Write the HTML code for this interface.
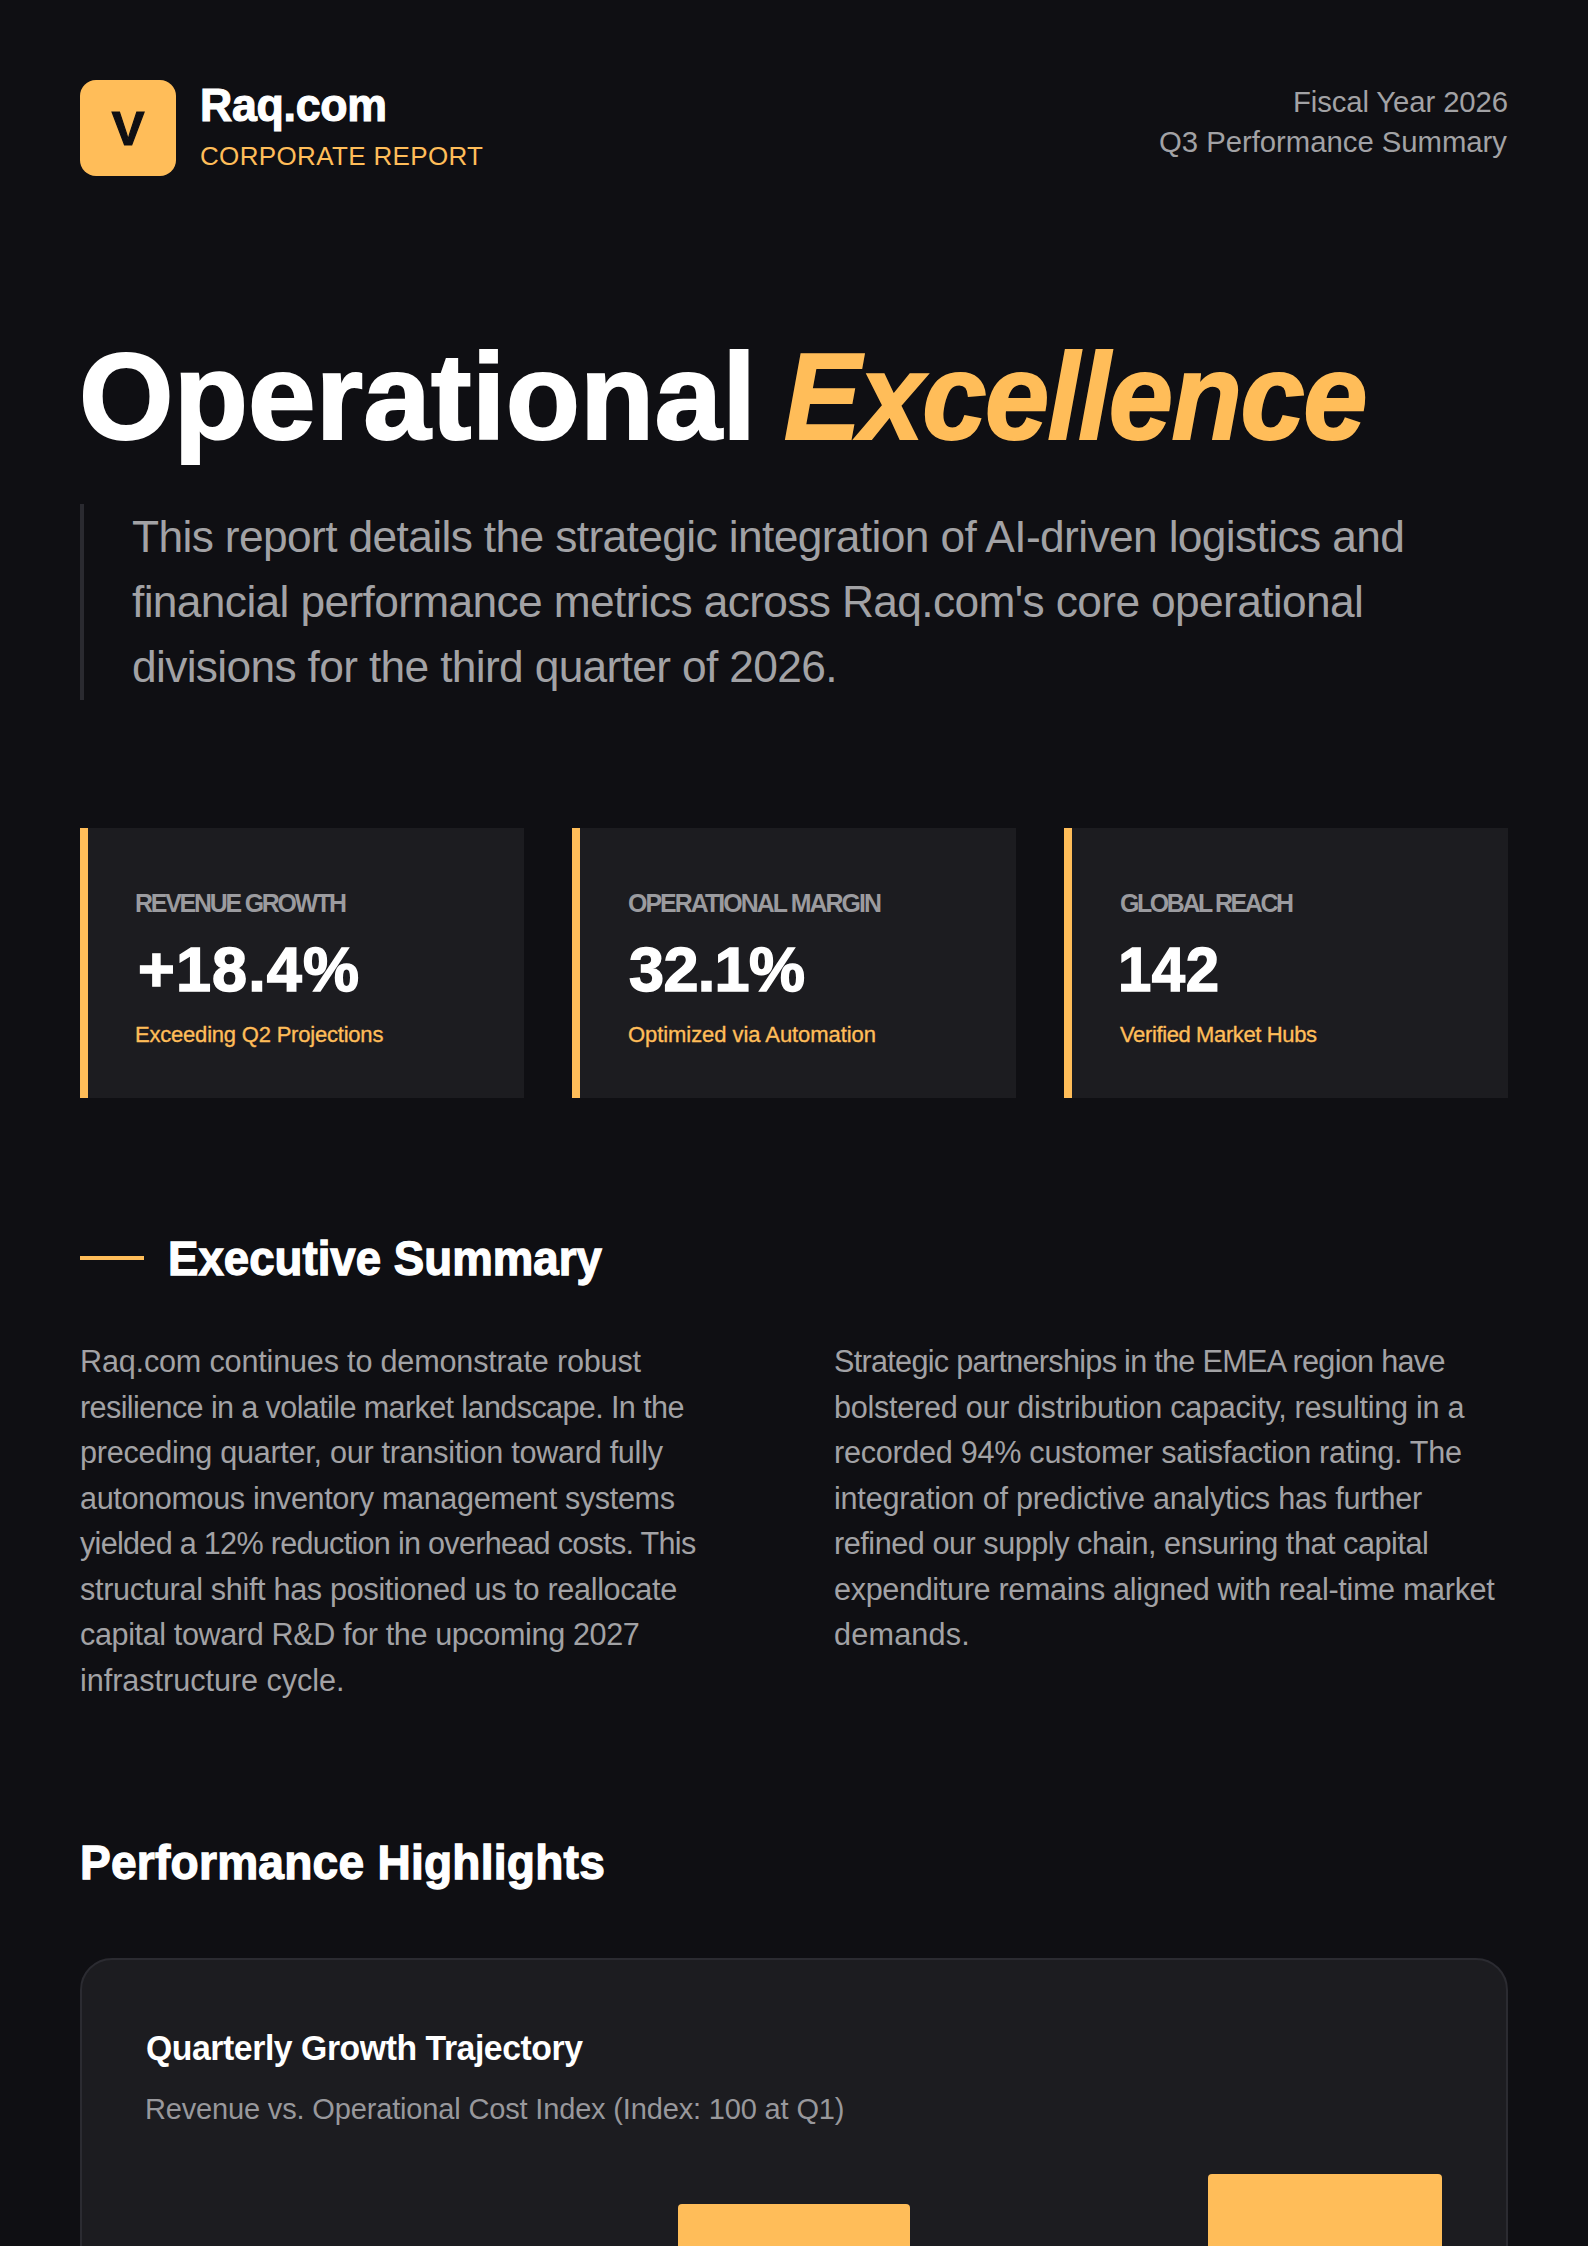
<!DOCTYPE html>
<html lang="en">
<head>
<meta charset="utf-8">
<title>Raq.com Corporate Report</title>
<style>
html,body,h1,h2,h3,p,blockquote{margin:0;padding:0}
h1,h2,h3{font-size:inherit;font-weight:inherit}
body{width:1588px;height:2246px;background:#0f0f13;overflow:hidden;position:relative;font-family:"Liberation Sans",sans-serif;color:#fff}
.t{position:absolute;white-space:nowrap;margin:0;transform-origin:0 0;font-kerning:normal}
.r{transform-origin:100% 0}
.logo{position:absolute;left:80px;top:80px;width:96px;height:96px;border-radius:16px;background:#ffbd59;display:flex;align-items:center;justify-content:center;color:#0f0f13;font-weight:700;font-size:49px;line-height:1}
.logo span{display:block;margin-top:1px;-webkit-text-stroke:1.2px #0f0f13}
.bq{position:absolute;left:80px;top:504px;width:4px;height:196px;background:#2a2a30}
.card{position:absolute;top:828px;width:436px;height:270px;background:#1c1c20;border-left:8px solid #ffbd59}
.rule{position:absolute;left:80px;top:1256px;width:64px;height:4px;background:#ffbd59}
.chart{position:absolute;left:80px;top:1958px;width:1424px;height:400px;border:2px solid #2b2b31;border-radius:32px;background:#1c1c20}
.bar{position:absolute;background:#ffbd59;border-radius:4px 4px 0 0;width:233.6px;height:200px}
#brand{top:82.18px;font-size:46.5px;line-height:46.5px;color:#ffffff;font-weight:700;letter-spacing:-0.266px;left:200.00px;transform:scaleX(0.9600);-webkit-text-stroke:1.2px #ffffff;}
#corp{top:142.50px;font-size:26px;line-height:26px;color:#ffbd59;letter-spacing:0.343px;left:200.00px;}
#fy{top:86.69px;font-size:29.3px;line-height:29.3px;color:#a2a2a5;letter-spacing:-0.108px;right:80.11px;}
#q3{top:127.00px;font-size:29.3px;line-height:29.3px;color:#a2a2a5;letter-spacing:-0.020px;right:81.02px;}
#t1{top:336.73px;font-size:121.5px;line-height:121.5px;color:#ffffff;font-weight:700;letter-spacing:0.186px;left:79.00px;-webkit-text-stroke:2px #ffffff;}
#t2{top:336.73px;font-size:121.5px;line-height:121.5px;color:#ffbd59;font-weight:700;font-style:italic;letter-spacing:-1.568px;left:784.00px;transform:scaleX(0.9500);-webkit-text-stroke:2px #ffbd59;}
#in0{top:514.64px;font-size:44.3px;line-height:44.3px;color:#a2a2a5;letter-spacing:-0.625px;left:132.00px;}
#in1{top:579.94px;font-size:44.3px;line-height:44.3px;color:#a2a2a5;letter-spacing:-0.638px;left:132.00px;}
#in2{top:645.25px;font-size:44.3px;line-height:44.3px;color:#a2a2a5;letter-spacing:-0.662px;left:132.00px;}
#cl0{top:61.73px;font-size:26.2px;line-height:26.2px;color:#9b9b9f;font-weight:700;letter-spacing:-2.308px;left:47.00px;transform:scaleX(0.9500);}
#cv0{top:110.45px;font-size:63px;line-height:63px;color:#ffffff;font-weight:700;letter-spacing:1.113px;left:50.00px;-webkit-text-stroke:1.5px #ffffff;}
#cs0{top:195.50px;font-size:22px;line-height:22px;color:#ffbd59;letter-spacing:-0.206px;left:47.00px;-webkit-text-stroke:0.35px #ffbd59;}
#cl1{top:61.73px;font-size:26.2px;line-height:26.2px;color:#9b9b9f;font-weight:700;letter-spacing:-2.017px;left:48.00px;transform:scaleX(0.9500);}
#cv1{top:110.45px;font-size:63px;line-height:63px;color:#ffffff;font-weight:700;letter-spacing:-0.660px;left:49.00px;-webkit-text-stroke:1.5px #ffffff;}
#cs1{top:195.50px;font-size:22px;line-height:22px;color:#ffbd59;letter-spacing:-0.064px;left:48.00px;-webkit-text-stroke:0.35px #ffbd59;}
#cl2{top:61.73px;font-size:26.2px;line-height:26.2px;color:#9b9b9f;font-weight:700;letter-spacing:-2.484px;left:48.00px;transform:scaleX(0.9500);}
#cv2{top:110.45px;font-size:63px;line-height:63px;color:#ffffff;font-weight:700;letter-spacing:0.595px;left:46.00px;transform:scaleX(0.9500);-webkit-text-stroke:1.5px #ffffff;}
#cs2{top:195.50px;font-size:22px;line-height:22px;color:#ffbd59;letter-spacing:-0.379px;left:48.00px;-webkit-text-stroke:0.35px #ffbd59;}
#eh{top:1234.28px;font-size:48.5px;line-height:48.5px;color:#ffffff;font-weight:700;letter-spacing:0.031px;left:168.20px;transform:scaleX(0.9400);-webkit-text-stroke:1.3px #ffffff;}
#l0{top:1346.09px;font-size:30.6px;line-height:30.6px;color:#a2a2a5;letter-spacing:-0.184px;left:80.00px;}
#l1{top:1391.59px;font-size:30.6px;line-height:30.6px;color:#a2a2a5;letter-spacing:-0.623px;left:80.00px;}
#l2{top:1437.09px;font-size:30.6px;line-height:30.6px;color:#a2a2a5;letter-spacing:-0.272px;left:80.00px;}
#l3{top:1482.59px;font-size:30.6px;line-height:30.6px;color:#a2a2a5;letter-spacing:-0.363px;left:80.00px;}
#l4{top:1528.09px;font-size:30.6px;line-height:30.6px;color:#a2a2a5;letter-spacing:-0.715px;left:80.00px;}
#l5{top:1573.59px;font-size:30.6px;line-height:30.6px;color:#a2a2a5;letter-spacing:-0.320px;left:80.00px;}
#l6{top:1619.09px;font-size:30.6px;line-height:30.6px;color:#a2a2a5;letter-spacing:-0.385px;left:80.00px;}
#l7{top:1664.59px;font-size:30.6px;line-height:30.6px;color:#a2a2a5;letter-spacing:-0.032px;left:80.00px;}
#r0{top:1346.09px;font-size:30.6px;line-height:30.6px;color:#a2a2a5;letter-spacing:-0.698px;left:834.00px;}
#r1{top:1391.59px;font-size:30.6px;line-height:30.6px;color:#a2a2a5;letter-spacing:-0.267px;left:834.00px;}
#r2{top:1437.09px;font-size:30.6px;line-height:30.6px;color:#a2a2a5;letter-spacing:-0.278px;left:834.00px;}
#r3{top:1482.59px;font-size:30.6px;line-height:30.6px;color:#a2a2a5;letter-spacing:-0.226px;left:834.00px;}
#r4{top:1528.09px;font-size:30.6px;line-height:30.6px;color:#a2a2a5;letter-spacing:-0.453px;left:834.00px;}
#r5{top:1573.59px;font-size:30.6px;line-height:30.6px;color:#a2a2a5;letter-spacing:-0.333px;left:834.00px;}
#r6{top:1619.09px;font-size:30.6px;line-height:30.6px;color:#a2a2a5;letter-spacing:0.206px;left:834.00px;}
#ph{top:1838.08px;font-size:48.5px;line-height:48.5px;color:#ffffff;font-weight:700;letter-spacing:0.254px;left:80.20px;transform:scaleX(0.9500);-webkit-text-stroke:1.3px #ffffff;}
#ct{top:69.88px;font-size:35.2px;line-height:35.2px;color:#ffffff;font-weight:700;letter-spacing:-0.467px;left:64.00px;transform:scaleX(0.9600);}
#cs{top:134.95px;font-size:29.0px;line-height:29.0px;color:#98989c;letter-spacing:-0.159px;left:63.00px;}
</style>
</head>
<body>
<header>
<div class="logo"><span>V</span></div>
<div class="t" id="brand">Raq.com</div>
<div class="t" id="corp">CORPORATE REPORT</div>
<div class="t r" id="fy">Fiscal Year 2026</div>
<div class="t r" id="q3">Q3 Performance Summary</div>
</header>
<main>
<h1>
<span class="t" id="t1">Operational</span>
<span class="t" id="t2">Excellence</span>
</h1>
<div class="bq"></div>
<blockquote>
<span class="t" id="in0">This report details the strategic integration of AI-driven logistics and</span>
<span class="t" id="in1">financial performance metrics across Raq.com's core operational</span>
<span class="t" id="in2">divisions for the third quarter of 2026.</span>
</blockquote>
<section>
<div class="card" style="left:80px">
<div class="t" id="cl0">REVENUE GROWTH</div>
<div class="t" id="cv0">+18.4%</div>
<div class="t" id="cs0">Exceeding Q2 Projections</div>
</div>
<div class="card" style="left:572px">
<div class="t" id="cl1">OPERATIONAL MARGIN</div>
<div class="t" id="cv1">32.1%</div>
<div class="t" id="cs1">Optimized via Automation</div>
</div>
<div class="card" style="left:1064px">
<div class="t" id="cl2">GLOBAL REACH</div>
<div class="t" id="cv2">142</div>
<div class="t" id="cs2">Verified Market Hubs</div>
</div>
</section>
<section>
<div class="rule"></div>
<h2 class="t" id="eh">Executive Summary</h2>
<p>
<span class="t" id="l0">Raq.com continues to demonstrate robust</span>
<span class="t" id="l1">resilience in a volatile market landscape. In the</span>
<span class="t" id="l2">preceding quarter, our transition toward fully</span>
<span class="t" id="l3">autonomous inventory management systems</span>
<span class="t" id="l4">yielded a 12% reduction in overhead costs. This</span>
<span class="t" id="l5">structural shift has positioned us to reallocate</span>
<span class="t" id="l6">capital toward R&amp;D for the upcoming 2027</span>
<span class="t" id="l7">infrastructure cycle.</span>
</p>
<p>
<span class="t" id="r0">Strategic partnerships in the EMEA region have</span>
<span class="t" id="r1">bolstered our distribution capacity, resulting in a</span>
<span class="t" id="r2">recorded 94% customer satisfaction rating. The</span>
<span class="t" id="r3">integration of predictive analytics has further</span>
<span class="t" id="r4">refined our supply chain, ensuring that capital</span>
<span class="t" id="r5">expenditure remains aligned with real-time market</span>
<span class="t" id="r6">demands.</span>
</p>
</section>
<section>
<h2 class="t" id="ph">Performance Highlights</h2>
<div class="chart">
<h3 class="t" id="ct">Quarterly Growth Trajectory</h3>
<div class="t" id="cs">Revenue vs. Operational Cost Index (Index: 100 at Q1)</div>
<div class="bar" style="left:596px;top:244px;width:232px"></div>
<div class="bar" style="left:1126px;top:214px;width:234px"></div>
</div>
</section>
</main>
</body>
</html>
